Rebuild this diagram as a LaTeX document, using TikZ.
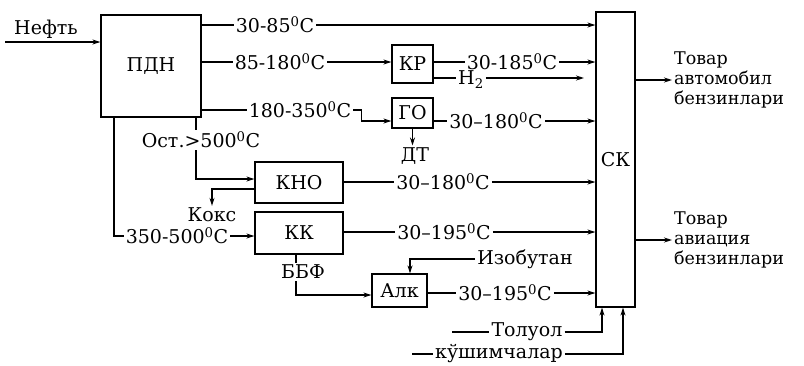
\documentclass[tikz,border=0pt]{standalone}
\usepackage{fontspec}
\setmainfont{DejaVu Serif}
\usetikzlibrary{arrows.meta, calc}

\begin{document}
\begin{tikzpicture}[>={Stealth[length=8pt,width=5pt]}, x=1pt, y=-1pt, line width=1.2pt,
  every node/.style={font=\fontsize{19}{21}\selectfont, inner sep=1.5pt},
  box/.style={draw, rectangle, inner sep=0pt},
  outtxt/.style={font=\fontsize{17.5}{20}\selectfont, align=left, anchor=west}]

\useasboundingbox (0,0) rectangle (804,365);

% Blocchi
\node[box, minimum width=100pt, minimum height=102pt] (pdn) at (151,66) {ПДН};
\node[box, minimum width=41pt, minimum height=38pt] (kr) at (412.5,64) {КР};
\node[box, minimum width=41pt, minimum height=30pt] (go) at (412.5,113) {ГО};
\node[box, minimum width=88pt, minimum height=41pt] (kno) at (299,182.5) {КНО};
\node[box, minimum width=88pt, minimum height=42pt] (kk) at (299,233) {КК};
\node[box, minimum width=55pt, minimum height=33pt] (alk) at (399.5,290.5) {Алк};
\node[box, minimum width=39pt, minimum height=295pt] (sk) at (615.5,159.5) {СК};

% Нефть
\node (neft) at (46,29) {Нефть};
\coordinate (in) at (5,42);
\draw[->] (in) -- (pdn.west |- in);

% Фракции из ПДН
\node (t1) at (275,25) {30-85\textsuperscript{0}C};
\draw (pdn.east |- t1) -- (t1);
\draw[->] (t1) -- (sk.west |- t1);

\node (t2) at (280,62) {85-180\textsuperscript{0}C};
\draw (pdn.east |- t2) -- (t2);
\draw[->] (t2) -- (kr.west |- t2);

\node (t4) at (300,110) {180-350\textsuperscript{0}C};
\draw (pdn.east |- t4) -- (t4);
\draw[->] (t4.east) -- ++(8,0) |- ([yshift=-8pt]go.west);

% КР
\node (t3) at (512,62) {30-185\textsuperscript{0}C};
\draw (kr.east |- t3) -- (t3);
\draw[->] (t3) -- (sk.west |- t3);

\node (h2) at (471,80) {H\textsubscript{2}};
\coordinate (h2e) at (584,78);
\draw (kr.east |- h2e) -- (h2.west |- h2e);
\draw[->] (h2.east |- h2e) -- (h2e);

% ГО
\node (t5) at (496,121) {30--180\textsuperscript{0}C};
\draw (go.east |- t5) -- (t5);
\draw[->] (t5) -- (sk.west |- t5);

\node (dt) at (415,156) {ДТ};
\draw[->] (go.south) -- (go.south |- dt.north);

% Остаток
\node (ost) at (201,140) {Ост.>500\textsuperscript{0}C};
\coordinate (o1) at (196,117);
\draw (o1) -- (o1 |- ost.north);
\draw[->] (o1 |- ost.south) |- ([yshift=3.5pt]kno.west);

\node (t8) at (177,236) {350-500\textsuperscript{0}C};
\coordinate (o2) at (114,117);
\draw (o2) |- (t8);
\draw[->] (t8) -- (kk.west |- t8);

% КНО
\node (koks) at (212,215) {Кокс};
\draw[->] ([yshift=-6.5pt]kno.west) -| (koks.north);

\node (t6) at (443,182) {30--180\textsuperscript{0}C};
\draw (kno.east |- t6) -- (t6);
\draw[->] (t6) -- (sk.west |- t6);

% КК
\node (t7) at (444,232) {30--195\textsuperscript{0}C};
\draw (kk.east |- t7) -- (t7);
\draw[->] (t7) -- (sk.west |- t7);

\node (bbf) at (303,272) {ББФ};
\draw ([xshift=-3pt]kk.south) -- ([xshift=-3pt]kk.south |- bbf.north);
\draw[->] ([xshift=-3pt]kk.south |- bbf.south) |- ([yshift=-4.5pt]alk.west);

% Алк
\node (izo) at (525,259) {Изобутан};
\draw[->] (izo) -| ([xshift=10.5pt]alk.north);

\node (t9) at (505,293) {30--195\textsuperscript{0}C};
\draw (alk.east |- t9) -- (t9);
\draw[->] (t9) -- (sk.west |- t9);

% Добавки
\node (tol) at (527,332) {Толуол};
\coordinate (tl) at (452,332);
\draw (tl) -- (tol);
\draw[->] (tol) -| ([xshift=-13.5pt]sk.south);

\node (ksh) at (499,354) {кўшимчалар};
\coordinate (kl) at (412,354);
\draw (kl) -- (ksh);
\draw[->] (ksh) -| ([xshift=7.5pt]sk.south);

% Товар
\node[outtxt] (avto) at (672,80) {Товар\\автомобил\\бензинлари};
\draw[->] (sk.east |- avto) -- (avto);
\node[outtxt] (avia) at (672,240) {Товар\\авиация\\бензинлари};
\draw[->] (sk.east |- avia) -- (avia);

\end{tikzpicture}
\end{document}
